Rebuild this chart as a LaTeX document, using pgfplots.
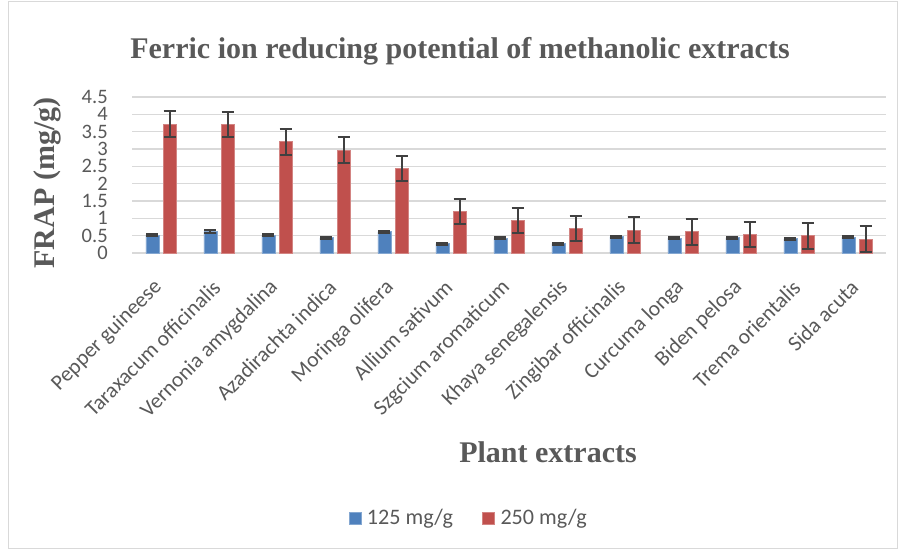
\documentclass[border=0pt]{standalone}
\usepackage{pgfplots}
\usepackage{pgfplotstable}
\pgfplotsset{compat=1.18}
\usepackage{fontspec}
\setmainfont{Liberation Serif}
\newfontfamily\calibri{Carlito}
\definecolor{barblue}{HTML}{4F81BD}
\definecolor{barred}{HTML}{C0504D}
\definecolor{txt}{HTML}{595959}
\definecolor{gridc}{HTML}{D9D9D9}
\definecolor{errc}{HTML}{404040}

\pgfplotstableread{
x b be r re
0 0.51 0.03 3.72 0.365
1 0.62 0.03 3.70 0.365
2 0.51 0.03 3.21 0.37
3 0.44 0.03 2.97 0.37
4 0.61 0.03 2.44 0.37
5 0.27 0.03 1.20 0.365
6 0.42 0.03 0.94 0.37
7 0.27 0.03 0.71 0.37
8 0.47 0.03 0.66 0.365
9 0.43 0.03 0.61 0.37
10 0.44 0.03 0.53 0.37
11 0.41 0.03 0.50 0.37
12 0.46 0.03 0.40 0.37
}\data

\begin{document}
\begin{tikzpicture}
\path[use as bounding box] (0,0) rectangle (674.25pt,-412.5pt);
\draw[gridc, line width=0.75pt] (6pt,-0.75pt) rectangle (672.75pt,-411pt);
\begin{axis}[
  at={(99pt,-189.75pt)}, anchor=south west,
  width=565.5pt, height=117pt, scale only axis,
  ymin=0, ymax=4.5, xmin=-0.5, xmax=12.5,
  ytick={0,0.5,1,1.5,2,2.5,3,3.5,4,4.5},
  yticklabels={0,0.5,1,1.5,2,2.5,3,3.5,4,4.5},
  xtick={0,1,2,3,4,5,6,7,8,9,10,11,12},
  xticklabels={Pepper guineese, Taraxacum officinalis, Vernonia amygdalina, Azadirachta indica, Moringa olifera, Allium sativum, Szgcium aromaticum, Khaya senegalensis, Zingibar officinalis, Curcuma longa, Biden pelosa, Trema orientalis, Sida acuta},
  axis line style={draw=none},
  major tick length=0pt,
  ymajorgrids, grid style={gridc, line width=1pt},
  yticklabel style={font=\calibri\fontsize{15.4}{15}\selectfont, text=txt, xshift=-17pt, inner sep=1pt},
  xticklabel style={font=\calibri\fontsize{16.2}{16}\selectfont, text=txt, yshift=-22.5pt, xshift=-1pt, rotate=45, anchor=east, inner sep=1pt},
  /pgf/number format/assume math mode=true,
  ybar, bar width=9.75pt,
  legend style={at={(axis description cs:0.447,-1.70)}, anchor=center, draw=none, fill=none,
    font=\calibri\fontsize{16.6}{20}\selectfont, text=txt, legend columns=2,
    /tikz/every odd column/.append style={column sep=0pt},
    /tikz/every even column/.append style={column sep=20pt}},
  legend image code/.code={\fill[#1] (0pt,-4.5pt) rectangle (9pt,4.5pt);},
  legend cell align=left,
]
\addplot[ybar, bar shift=-6.4pt, fill=barblue, draw=barblue!70!white, line width=0.6pt,
  error bars/.cd, y dir=both, y explicit,
  error bar style={line width=1.5pt, errc},
  error mark options={rotate=90, mark size=4.5pt, line width=1.5pt, errc}]
  table[x=x, y=b, y error=be] {\data};
\addplot[ybar, bar shift=6.4pt, fill=barred, draw=barred!70!white, line width=0.6pt,
  error bars/.cd, y dir=both, y explicit,
  error bar style={line width=1.5pt, errc},
  error mark options={rotate=90, mark size=4.5pt, line width=1.5pt, errc}]
  table[x=x, y=r, y error=re] {\data};
\addlegendentry{\hspace{2pt}125 mg/g}
\addlegendentry{\hspace{2pt}250 mg/g}
\end{axis}
\node[font=\bfseries\fontsize{22.5}{27}\selectfont, text=txt] at (345pt,-38.25pt) {Ferric ion reducing potential of methanolic extracts};
\node[font=\bfseries\fontsize{22.5}{27}\selectfont, text=txt, rotate=90] at (35.25pt,-137.25pt) {FRAP (mg/g)};
\node[font=\bfseries\fontsize{22.5}{27}\selectfont, text=txt] at (411pt,-339pt) {Plant extracts};
\end{tikzpicture}
\end{document}
